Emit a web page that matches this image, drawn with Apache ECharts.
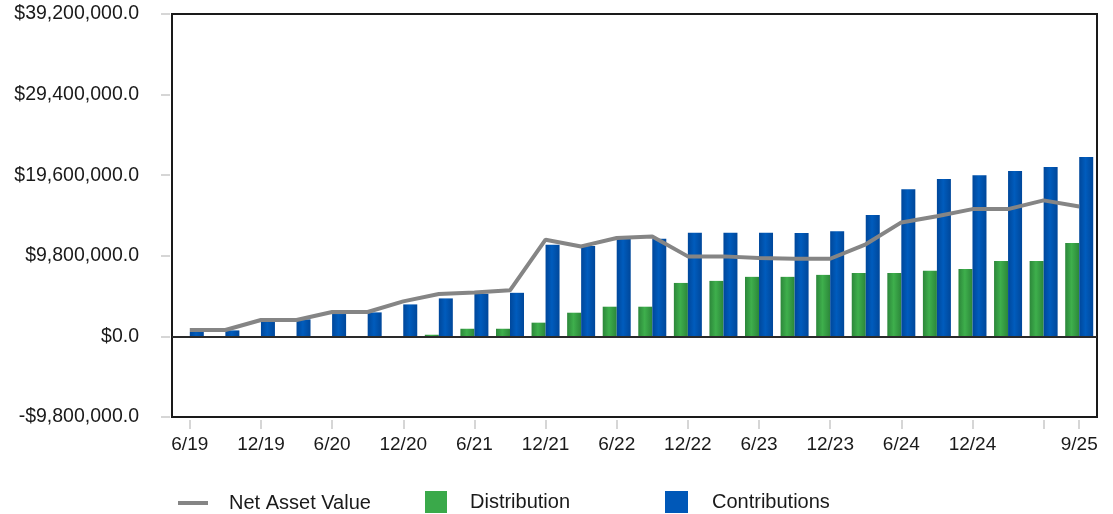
<!DOCTYPE html>
<html>
<head>
<meta charset="utf-8">
<title>Net Asset Value, Distribution and Contributions</title>
<script src="https://cdn.jsdelivr.net/npm/echarts@6/dist/echarts.min.js"></script>
<style>
    html, body { margin: 0; padding: 0; background: #fff; }
    #chart { width: 1113px; height: 514px; }
</style>
</head>
<body>
<div id="chart"></div>
<script>

// Chart data
// ------------------------------

var categories = ['6/19', '9/19', '12/19', '3/20', '6/20', '9/20', '12/20', '3/21', '6/21', '9/21',
    '12/21', '3/22', '6/22', '9/22', '12/22', '3/23', '6/23', '9/23', '12/23', '3/24',
    '6/24', '9/24', '12/24', '3/25', '6/25', '9/25'];

var navValues = [780000, 780000, 2000000, 2000000, 2970000, 2970000, 4260000, 5160000, 5350000, 5600000,
    11760000, 10940000, 11960000, 12160000, 9730000, 9730000, 9530000, 9440000, 9440000, 11200000,
    13860000, 14600000, 15480000, 15480000, 16540000, 15800000];

var distributionValues = [-150000, -150000, -150000, -150000, -150000, -150000, -150000, 200000, 930000, 930000,
    1670000, 2880000, 3610000, 3610000, 6500000, 6750000, 7240000, 7240000, 7480000, 7720000,
    7720000, 7970000, 8210000, 9180000, 9180000, 11370000];

var contributionValues = [535000, 730000, 1750000, 2070000, 2720000, 2920000, 3890000, 4620000, 5190000, 5300000,
    11150000, 10980000, 11880000, 11880000, 12600000, 12600000, 12600000, 12560000, 12800000, 14750000,
    17900000, 19130000, 19600000, 20100000, 20600000, 21800000];

var yTicks = [-9800000, 0, 9800000, 19600000, 29400000, 39200000];


// Setup module
// ------------------------------

var NavChart = function() {

    var fontFamily = '"Liberation Sans", Arial, sans-serif';

    // $12,345,678.0 style labels
    var money = function(v) {
        var s = Math.abs(v).toFixed(1).replace(/\B(?=(\d{3})+(?!\d))/g, ',');
        return (v < 0 ? '-$' : '$') + s;
    };

    // Cylinder-like shading for bars
    var shade = function(edge, mid) {
        return new echarts.graphic.LinearGradient(0, 0, 1, 0, [
            { offset: 0, color: edge },
            { offset: 0.45, color: mid },
            { offset: 1, color: edge }
        ]);
    };

    var lastIndex = categories.length - 1;

    var legendText = { fontFamily: fontFamily, fontSize: 20, color: '#1a1a1a' };

    var _init = function() {
        var el = document.getElementById('chart');
        if (!el) return;

        var chart = echarts.init(el, null, { renderer: 'canvas' });

        chart.setOption({
            animation: false,

            textStyle: {
                fontFamily: fontFamily,
                color: '#1a1a1a'
            },

            grid: {
                left: 172,
                right: 16,
                top: 14,
                bottom: 97,
                show: true,
                borderColor: '#1a1a1a',
                borderWidth: 2,
                backgroundColor: 'transparent'
            },

            // One legend per item so each can sit where it does in the original
            legend: [{
                left: 173,
                top: 488,
                itemWidth: 30,
                itemHeight: 4,
                selectedMode: false,
                textStyle: Object.assign({ padding: [0, 0, 0, 16] }, legendText),
                data: [{ name: 'Net Asset Value', icon: 'rect', itemStyle: { color: '#858585' } }]
            }, {
                left: 420,
                top: 486,
                itemWidth: 22,
                itemHeight: 22,
                selectedMode: false,
                textStyle: Object.assign({ padding: [0, 0, 0, 18] }, legendText),
                data: [{ name: 'Distribution', icon: 'rect', itemStyle: { color: '#3aa94a' } }]
            }, {
                left: 660,
                top: 486,
                itemWidth: 23,
                itemHeight: 22,
                selectedMode: false,
                textStyle: Object.assign({ padding: [0, 0, 0, 19] }, legendText),
                data: [{ name: 'Contributions', icon: 'rect', itemStyle: { color: '#0058b8' } }]
            }],

            xAxis: [{
                type: 'category',
                data: categories,
                boundaryGap: true,
                offset: 3,
                axisLine: { show: false, onZero: false },
                axisTick: {
                    show: true,
                    alignWithLabel: true,
                    length: 9,
                    lineStyle: { color: '#d6d6d6', width: 2 },
                    interval: function(i) {
                        return i % 2 === 0 || i === lastIndex;
                    }
                },
                axisLabel: {
                    fontSize: 19,
                    color: '#1a1a1a',
                    margin: 15,
                    interval: function(i) {
                        return (i % 2 === 0 && i !== lastIndex - 1) || i === lastIndex;
                    }
                },
                splitLine: { show: false }
            }],

            yAxis: [{
                type: 'value',
                min: yTicks[0],
                max: yTicks[yTicks.length - 1],
                interval: yTicks[1] - yTicks[0],
                offset: 2,
                axisLine: { show: false },
                axisTick: {
                    show: true,
                    length: 9,
                    lineStyle: { color: '#d6d6d6', width: 2 }
                },
                axisLabel: {
                    fontSize: 19.5,
                    color: '#1a1a1a',
                    margin: 31,
                    formatter: money
                },
                splitLine: { show: false }
            }],

            series: [
                {
                    name: 'Distribution',
                    type: 'bar',
                    data: distributionValues,
                    barWidth: 14,
                    barGap: '0%',
                    itemStyle: { color: shade('#2c873a', '#3eaf4c') },
                    z: 2
                },
                {
                    name: 'Contributions',
                    type: 'bar',
                    data: contributionValues,
                    barWidth: 14,
                    itemStyle: { color: shade('#00479a', '#005cbd') },
                    markLine: {
                        silent: true,
                        symbol: 'none',
                        label: { show: false },
                        lineStyle: { color: '#2a2a2a', width: 2, type: 'solid' },
                        data: [{ yAxis: 0 }]
                    },
                    z: 2
                },
                {
                    name: 'Net Asset Value',
                    type: 'line',
                    data: navValues,
                    symbol: 'none',
                    lineStyle: { color: '#858585', width: 4 },
                    itemStyle: { color: '#858585' },
                    z: 5
                }
            ]
        });
    };

    return {
        init: function() {
            _init();
        }
    };
}();


// Initialize module
// ------------------------------

document.addEventListener('DOMContentLoaded', function() {
    NavChart.init();
});
</script>
</body>
</html>
